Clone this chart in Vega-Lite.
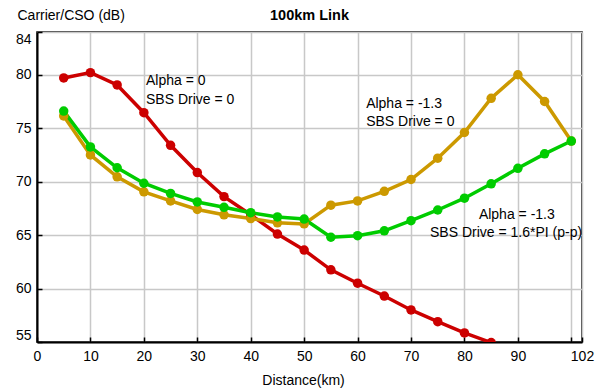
{
  "$schema": "https://vega.github.io/schema/vega-lite/v6.json",
  "width": 545,
  "height": 310,
  "autosize": {"type": "none"},
  "padding": {"left": 37, "top": 32, "right": 19, "bottom": 49},
  "background": "white",
  "title": {"text": "100km Link", "font": "Liberation Sans", "fontSize": 14.5, "fontWeight": "bold", "color": "#000", "anchor": "middle", "offset": -15},
  "config": {
    "font": "Liberation Sans",
    "view": {"stroke": "#000", "strokeWidth": 1.5},
    "axis": {
      "labelFont": "Liberation Sans", "labelFontSize": 14, "labelColor": "#000",
      "titleFont": "Liberation Sans", "titleFontSize": 14, "titleColor": "#000", "titleFontWeight": "normal",
      "domainColor": "#000", "domainWidth": 2,
      "tickColor": "#000", "tickSize": -5, "tickWidth": 1.5,
      "gridColor": "#c8c8c8", "gridWidth": 1.5, "gridOpacity": 1
    }
  },
  "datasets": {
    "series": [
      {"series": "red", "distance": 5, "cso": 79.7},
      {"series": "red", "distance": 10, "cso": 80.2},
      {"series": "red", "distance": 15, "cso": 79.05},
      {"series": "red", "distance": 20, "cso": 76.45},
      {"series": "red", "distance": 25, "cso": 73.4},
      {"series": "red", "distance": 30, "cso": 70.85},
      {"series": "red", "distance": 35, "cso": 68.6},
      {"series": "red", "distance": 40, "cso": 66.9},
      {"series": "red", "distance": 45, "cso": 65.1},
      {"series": "red", "distance": 50, "cso": 63.6},
      {"series": "red", "distance": 55, "cso": 61.75},
      {"series": "red", "distance": 60, "cso": 60.5},
      {"series": "red", "distance": 65, "cso": 59.3},
      {"series": "red", "distance": 70, "cso": 58.0},
      {"series": "red", "distance": 75, "cso": 56.9},
      {"series": "red", "distance": 80, "cso": 55.85},
      {"series": "red", "distance": 85, "cso": 54.95},
      {"series": "orange", "distance": 5, "cso": 76.15},
      {"series": "orange", "distance": 10, "cso": 72.5},
      {"series": "orange", "distance": 15, "cso": 70.45},
      {"series": "orange", "distance": 20, "cso": 69.05},
      {"series": "orange", "distance": 25, "cso": 68.2},
      {"series": "orange", "distance": 30, "cso": 67.4},
      {"series": "orange", "distance": 35, "cso": 66.9},
      {"series": "orange", "distance": 40, "cso": 66.55},
      {"series": "orange", "distance": 45, "cso": 66.15},
      {"series": "orange", "distance": 50, "cso": 66.05},
      {"series": "orange", "distance": 55, "cso": 67.8},
      {"series": "orange", "distance": 60, "cso": 68.2},
      {"series": "orange", "distance": 65, "cso": 69.1},
      {"series": "orange", "distance": 70, "cso": 70.2},
      {"series": "orange", "distance": 75, "cso": 72.2},
      {"series": "orange", "distance": 80, "cso": 74.6},
      {"series": "orange", "distance": 85, "cso": 77.8},
      {"series": "orange", "distance": 90, "cso": 80.0},
      {"series": "orange", "distance": 95, "cso": 77.5},
      {"series": "orange", "distance": 100, "cso": 73.8},
      {"series": "green", "distance": 5, "cso": 76.6},
      {"series": "green", "distance": 10, "cso": 73.25},
      {"series": "green", "distance": 15, "cso": 71.3},
      {"series": "green", "distance": 20, "cso": 69.85},
      {"series": "green", "distance": 25, "cso": 68.9},
      {"series": "green", "distance": 30, "cso": 68.1},
      {"series": "green", "distance": 35, "cso": 67.6},
      {"series": "green", "distance": 40, "cso": 67.1},
      {"series": "green", "distance": 45, "cso": 66.7},
      {"series": "green", "distance": 50, "cso": 66.5},
      {"series": "green", "distance": 55, "cso": 64.8},
      {"series": "green", "distance": 60, "cso": 64.95},
      {"series": "green", "distance": 65, "cso": 65.4},
      {"series": "green", "distance": 70, "cso": 66.35},
      {"series": "green", "distance": 75, "cso": 67.35},
      {"series": "green", "distance": 80, "cso": 68.45},
      {"series": "green", "distance": 85, "cso": 69.8},
      {"series": "green", "distance": 90, "cso": 71.25},
      {"series": "green", "distance": 95, "cso": 72.6},
      {"series": "green", "distance": 100, "cso": 73.8}
    ],
    "notes": [
      {"distance": 20.4, "cso": 79.42, "label": "Alpha = 0"},
      {"distance": 20.4, "cso": 77.64, "label": "SBS Drive = 0"},
      {"distance": 61.6, "cso": 77.26, "label": "Alpha = -1.3"},
      {"distance": 61.6, "cso": 75.58, "label": "SBS Drive = 0"},
      {"distance": 82.7, "cso": 66.88, "label": "Alpha = -1.3"},
      {"distance": 73.55, "cso": 65.2, "label": "SBS Drive = 1.6*PI (p-p)"}
    ]
  },
  "encoding": {
    "x": {
      "field": "distance", "type": "quantitative",
      "scale": {"domain": [0, 102], "nice": false, "zero": false},
      "axis": {
        "values": [0, 10, 20, 30, 40, 50, 60, 70, 80, 90, 100, 102],
        "labelExpr": "datum.value == 100 ? '' : datum.label",
        "labelPadding": 12, "labelFlush": false,
        "title": "Distance(km)", "titleX": 266, "titleY": 38, "titleBaseline": "middle"
      }
    },
    "y": {
      "field": "cso", "type": "quantitative",
      "scale": {"domain": [55, 84], "nice": false, "zero": false},
      "axis": {
        "values": [55, 60, 65, 70, 75, 80, 84],
        "labelPadding": 11, "labelFlush": true, "labelFlushOffset": 0,
        "title": "Carrier/CSO (dB)", "titleAngle": 0, "titleX": -20, "titleY": -17,
        "titleAlign": "left", "titleBaseline": "middle"
      }
    }
  },
  "layer": [
    {
      "data": {"name": "series"},
      "mark": {"type": "line", "strokeWidth": 3.5, "clip": true},
      "encoding": {
        "color": {"field": "series", "type": "nominal", "legend": null,
          "scale": {"domain": ["red", "orange", "green"], "range": ["#cc0000", "#cc9900", "#00cc00"]}}
      }
    },
    {
      "data": {"name": "series"},
      "mark": {"type": "point", "filled": true, "size": 90, "opacity": 1, "clip": true},
      "encoding": {
        "color": {"field": "series", "type": "nominal", "legend": null,
          "scale": {"domain": ["red", "orange", "green"], "range": ["#cc0000", "#cc9900", "#00cc00"]}}
      }
    },
    {
      "data": {"name": "notes"},
      "mark": {"type": "text", "align": "left", "baseline": "middle", "fontSize": 14, "font": "Liberation Sans", "color": "#000"},
      "encoding": {"text": {"field": "label", "type": "nominal"}}
    }
  ]
}
